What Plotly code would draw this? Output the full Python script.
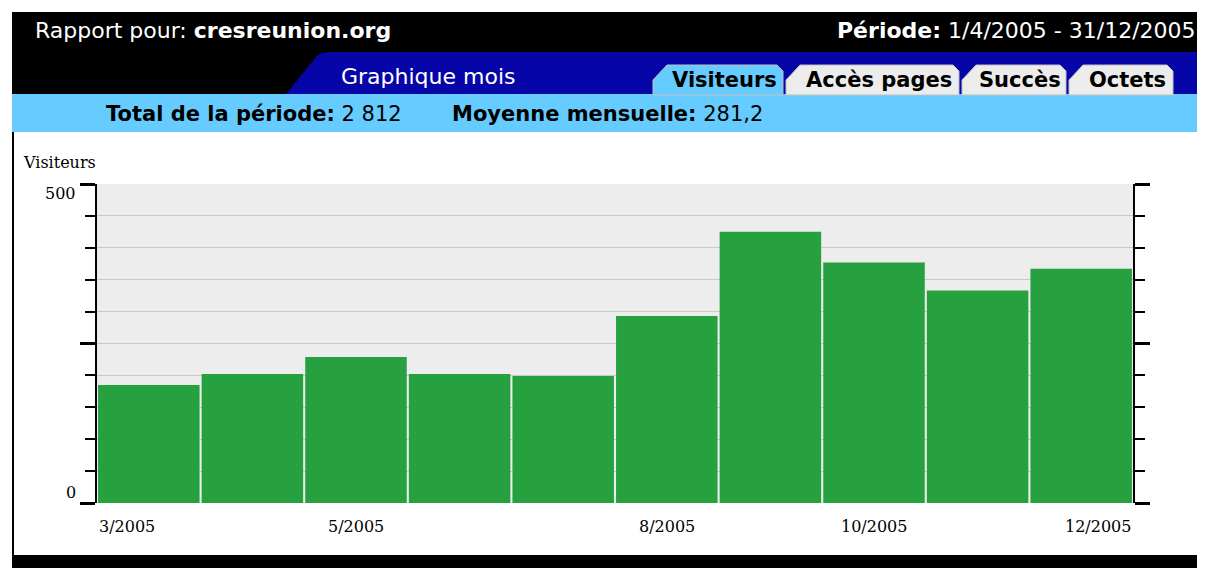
import plotly.graph_objects as go

months = ["3/2005", "4/2005", "5/2005", "6/2005", "7/2005",
          "8/2005", "9/2005", "10/2005", "11/2005", "12/2005"]
visitors = [185, 202, 229, 202, 199, 293, 425, 377, 333, 367]
shown_labels = ["3/2005", "5/2005", "8/2005", "10/2005", "12/2005"]

site = "cresreunion.org"
period = "1/4/2005 - 31/12/2005"
total_txt = "2 812"
mean_txt = "281,2"
tabs = ["Visiteurs", "Accès pages", "Succès", "Octets"]

# page body has an 8px margin, so the figure starts at (8, 8)
OFF = 8
W, H = 1205 - OFF, 568 - OFF


# screen pixel -> paper helpers
def X(px):
    return (px - OFF) / W


def Y(py):
    return 1 - (py - OFF) / H


fig = go.Figure()
fig.add_trace(go.Bar(x=months, y=visitors, marker_color="#27a140",
                     marker_line_width=0, hoverinfo="x+y"))

shapes = []
# header black block
shapes.append(dict(type="rect", xref="paper", yref="paper", x0=X(12), x1=X(1206),
                   y0=Y(94), y1=Y(12), fillcolor="black", line_width=0, layer="below"))
# blue slanted band
blue_path = "M {},{} L {},{} Q {},{} {},{} L {},{} L {},{} Z".format(
    X(286), Y(94), X(316), Y(57), X(320), Y(52), X(330), Y(52), X(1206), Y(52), X(1206), Y(94))
shapes.append(dict(type="path", xref="paper", yref="paper", path=blue_path,
                   fillcolor="#0505a8", line_width=0, layer="below"))
# light blue band
shapes.append(dict(type="rect", xref="paper", yref="paper", x0=X(12), x1=X(1206),
                   y0=Y(132), y1=Y(94), fillcolor="#66ccff", line_width=0, layer="below"))
# tabs
tab_edges = [(653, 783), (786, 959), (962, 1066), (1069, 1173)]
tab_cols = ["#66ccff", "#ececec", "#ececec", "#ececec"]
for (a, b), c in zip(tab_edges, tab_cols):
    p = "M {},{} L {},{} L {},{} L {},{} L {},{} L {},{} Z".format(
        X(a), Y(95), X(a), Y(80), X(a + 14), Y(65), X(b - 6), Y(65), X(b), Y(71), X(b), Y(95))
    shapes.append(dict(type="path", xref="paper", yref="paper", path=p,
                       fillcolor=c, line=dict(color="#c0c0c0", width=1), layer="below"))
# left border + bottom bar
shapes.append(dict(type="line", xref="paper", yref="paper", x0=X(13), x1=X(13),
                   y0=Y(555), y1=Y(132), line=dict(color="black", width=2)))
shapes.append(dict(type="rect", xref="paper", yref="paper", x0=X(12), x1=X(1206),
                   y0=Y(568), y1=Y(555), fillcolor="black", line_width=0))

hfont = "DejaVu Sans"
ann = []
ann.append(dict(x=X(33), y=Y(31), text="Rapport pour: <b>" + site + "</b>",
                xanchor="left", font=dict(family=hfont, size=22, color="white")))
ann.append(dict(x=X(1198), y=Y(31), text="<b>Période:</b> " + period,
                xanchor="right", font=dict(family=hfont, size=22, color="white")))
ann.append(dict(x=X(428), y=Y(76), text="Graphique mois", xanchor="center",
                font=dict(family=hfont, size=22, color="white")))
for (a, b), t in zip(tab_edges, tabs):
    ann.append(dict(x=X((a + b) / 2 + 6), y=Y(80), text="<b>" + t + "</b>", xanchor="center",
                    font=dict(family=hfont, size=21, color="black")))
ann.append(dict(x=X(104), y=Y(114), xanchor="left",
                text="<b>Total de la période:</b> " + total_txt,
                font=dict(family=hfont, size=21, color="black")))
ann.append(dict(x=X(450), y=Y(114), xanchor="left",
                text="<b>Moyenne mensuelle:</b> " + mean_txt,
                font=dict(family=hfont, size=21, color="black")))
for a in ann:
    a.update(xref="paper", yref="paper", showarrow=False, yanchor="middle")

sfont = dict(family="DejaVu Serif", size=16, color="black")
# axis texts
ann.append(dict(xref="paper", yref="paper", x=X(21), y=Y(162), xanchor="left", yanchor="middle",
                text="Visiteurs", showarrow=False, font=sfont))
ann.append(dict(xref="paper", yref="y", x=X(78), y=500, xanchor="right", yanchor="top",
                text="500", showarrow=False, font=sfont, yshift=2))
ann.append(dict(xref="paper", yref="y", x=X(78), y=0, xanchor="right", yanchor="bottom",
                text="0", showarrow=False, font=sfont, yshift=-1))
for m in shown_labels:
    i = months.index(m)
    xa, xv = "center", i
    if i == 0:
        xa, xv = "left", i - 0.5
    elif i == len(months) - 1:
        xa, xv = "right", i + 0.5
    ann.append(dict(xref="x", yref="paper", x=xv, y=Y(503), yanchor="top", yshift=-12,
                    xanchor=xa, text=m, showarrow=False, font=sfont))

fig.update_layout(
    width=W, height=H, margin=dict(l=0, r=0, t=0, b=0),
    paper_bgcolor="white", plot_bgcolor="#ededed",
    bargap=0.02, showlegend=False,
    shapes=shapes, annotations=ann,
    xaxis=dict(domain=[X(97), X(1133)], range=[-0.5, 9.5], showticklabels=False,
               showgrid=False, zeroline=False, ticks="", showline=False, fixedrange=True),
    yaxis=dict(domain=[Y(503), Y(184)], range=[0, 500], tickmode="linear", tick0=0, dtick=250,
               showticklabels=False, ticks="outside", ticklen=15, tickwidth=3, tickcolor="black",
               showline=True, linecolor="black", linewidth=2, mirror="allticks",
               showgrid=True, gridcolor="#c8c8c8", gridwidth=1, zeroline=False,
               minor=dict(dtick=50, ticks="outside", ticklen=10, tickwidth=2, tickcolor="black",
                          showgrid=True, gridcolor="#c8c8c8", gridwidth=1),
               fixedrange=True),
)

fig.write_html("out.html", default_width="%dpx" % W, default_height="%dpx" % H)
